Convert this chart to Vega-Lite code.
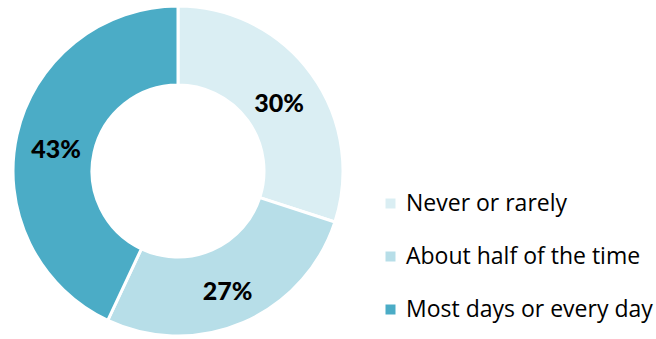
{
  "$schema": "https://vega.github.io/schema/vega-lite/v6.json",
  "width": 330,
  "height": 330,
  "padding": {"left": 13, "top": 6, "right": 313, "bottom": 3},
  "autosize": {"type": "none"},
  "background": "white",
  "view": {"stroke": null},
  "data": {
    "values": [
      {"category": "Never or rarely", "value": 30, "label": "30%", "order": 1},
      {"category": "About half of the time", "value": 27, "label": "27%", "order": 2},
      {"category": "Most days or every day", "value": 43, "label": "43%", "order": 3}
    ]
  },
  "encoding": {
    "theta": {"field": "value", "type": "quantitative", "stack": true},
    "order": {"field": "order", "type": "quantitative"}
  },
  "layer": [
    {
      "mark": {"type": "arc", "outerRadius": 165, "innerRadius": 86, "stroke": "white", "strokeWidth": 3},
      "encoding": {
        "color": {
          "field": "category",
          "type": "nominal",
          "sort": ["Never or rarely", "About half of the time", "Most days or every day"],
          "scale": {
            "domain": ["Never or rarely", "About half of the time", "Most days or every day"],
            "range": ["#DAEEF3", "#B7DEE8", "#4BACC6"]
          },
          "legend": {
            "title": null,
            "orient": "none",
            "legendX": 366,
            "legendY": 186,
            "symbolType": "square",
            "symbolSize": 100,
            "symbolStrokeWidth": 0,
            "labelFont": "Open Sans",
            "labelFontSize": 23,
            "labelColor": "black",
            "labelOffset": 4,
            "rowPadding": 29,
            "labelLimit": 400
          }
        }
      }
    },
    {
      "mark": {"type": "text", "radius": 125, "dy": 6, "font": "Lato", "fontSize": 25, "fontWeight": 900, "color": "black"},
      "encoding": {
        "text": {"field": "label", "type": "nominal"}
      }
    }
  ]
}
